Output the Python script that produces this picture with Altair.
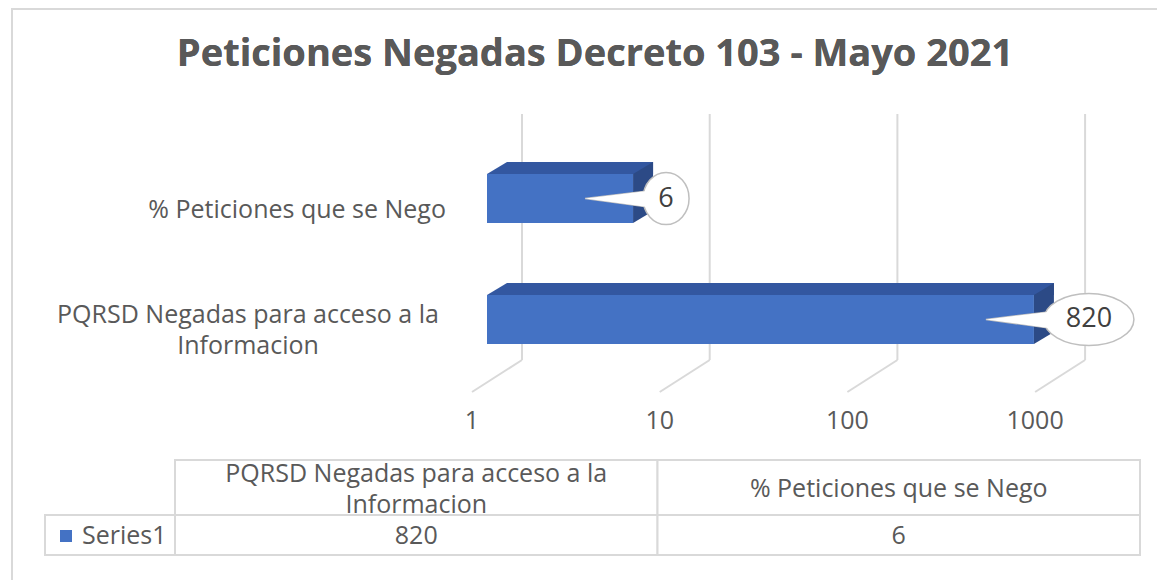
import altair as alt
import pandas as pd

# ---------------- data ----------------
title_text = "Peticiones Negadas Decreto 103 - Mayo 2021"
categories = ["PQRSD Negadas para acceso a la Informacion", "% Peticiones que se Nego"]
category_labels = ["PQRSD Negadas para acceso a la\nInformacion", "% Peticiones que se Nego"]
values = [820, 6]
value_labels = ["820", "6"]
tick_values = [1, 10, 100, 1000]
tick_labels = ["1", "10", "100", "1000"]
series_name = ["Series1"]

# ---------------- styling / layout ----------------
W, H = 1157, 580
ORIGIN = 487.0        # pixel of value 1 on the bar front plane
PX_DEC = 187.7        # pixels per decade
FONT = "Open Sans"
TXT = "#595959"
GRID = "#D9D9D9"
FRONT = "#4472C4"
TOP = "#3357A0"
SIDE = "#2C4A86"
DX, DY = 20, 12       # 3D depth of the bars
BAR_H = 49
LH = 31
FS = 25

df = pd.DataFrame({"cat": categories, "label": category_labels,
                   "val": values, "vlab": value_labels})
ticks = pd.DataFrame({"t": tick_values, "tl": tick_labels})

xs = alt.Scale(type="log", domain=[10 ** (-ORIGIN / PX_DEC), 10 ** ((W - ORIGIN) / PX_DEC)],
               range=[0, W], nice=False, zero=False)
ys = alt.Scale(type="band", domain=categories[::-1], range=[174, 344],
               paddingInner=0.595, paddingOuter=0)
tx = alt.Scale(type="band", domain=categories, range=[175, 1140], paddingInner=0, paddingOuter=0)

X = lambda f: alt.X(f, type="quantitative", scale=xs, axis=None)
Y = alt.Y("cat:N", scale=ys, axis=None)

layers = []

# outer frame
layers.append(alt.Chart(df).mark_rect(fill="white", stroke=GRID, strokeWidth=2).encode(
    x=alt.value(12), x2=alt.value(W + 20), y=alt.value(9), y2=alt.value(H + 20)))

# title
layers.append(alt.Chart(df).mark_text(font=FONT, fontSize=38, fontWeight="bold", color=TXT,
                                      align="center", baseline="middle").encode(
    x=alt.value(595), y=alt.value(55), text=alt.datum(title_text)))

# back-wall gridlines
layers.append(alt.Chart(ticks).mark_rule(color=GRID, strokeWidth=2, xOffset=35).encode(
    x=X("t"), y=alt.value(114), y2=alt.value(360)))
# floor diagonals
layers.append(alt.Chart(ticks).mark_rule(color=GRID, strokeWidth=2, xOffset=35, x2Offset=-15).encode(
    x=X("t"), x2=alt.X2("t"), y=alt.value(360), y2=alt.value(392)))
# tick labels
layers.append(alt.Chart(ticks).mark_text(font=FONT, fontSize=FS, color=TXT, xOffset=-15,
                                         align="center", baseline="middle").encode(
    x=X("t"), y=alt.value(421), text="tl:N"))

# bar: front face
layers.append(alt.Chart(df).mark_bar(size=BAR_H, color=FRONT).encode(
    x=X("val"), x2=alt.X2(datum=1), y=Y))
# bar: top face (rectangle part)
layers.append(alt.Chart(df).mark_bar(size=DY, color=TOP, xOffset=DX, x2Offset=DX,
                                     yOffset=-(BAR_H / 2 + DY / 2)).encode(
    x=X("val"), x2=alt.X2(datum=1), y=Y))
# bar: top face left triangle
hb = BAR_H / 2
tri = f"M0,{-hb} L{DX},{-hb - DY} L{DX},{-hb} Z"
layers.append(alt.Chart(df).mark_point(shape=tri, size=4, filled=True, color=TOP, opacity=1,
                                       strokeWidth=0).encode(
    x=alt.XDatum(1, type="quantitative", scale=xs, axis=None), y=Y))
# bar: side face
side = f"M0,{-hb} L{DX},{-hb - DY} L{DX},{hb - DY} L0,{hb} Z"
layers.append(alt.Chart(df).mark_point(shape=side, size=4, filled=True, color=SIDE, opacity=1,
                                       strokeWidth=0).encode(x=X("val"), y=Y))

# callouts
for c, lab in zip(categories, value_labels):
    rx = 12 + 11 * len(lab)
    ry = 26
    cx = rx + 10
    base = alt.Chart(df).transform_filter(alt.datum.cat == c)
    wedge = f"M-48,0 L{cx - rx + 8},-8 L{cx - rx + 8},9 Z"
    ell = f"M{cx - rx},0 A{rx},{ry} 0 1,0 {cx + rx},0 A{rx},{ry} 0 1,0 {cx - rx},0 Z"
    layers.append(base.mark_point(shape=wedge, size=4, filled=False, fill="white", stroke="#BFBFBF",
                                  strokeWidth=1.5, opacity=1).encode(x=X("val"), y=Y))
    layers.append(base.mark_point(shape=ell, size=4, filled=False, fill="white", stroke="#BFBFBF",
                                  strokeWidth=1.5, opacity=1).encode(x=X("val"), y=Y))
    layers.append(base.mark_point(shape=wedge, size=4, filled=True, fill="white", strokeWidth=0,
                                  opacity=1).encode(x=X("val"), y=Y))
    layers.append(base.mark_text(font=FONT, fontSize=27, color="#404040", dx=cx,
                                 align="center", baseline="middle").encode(
        x=X("val"), y=Y, text="vlab:N"))

# category labels (first line position; extra lines flow downward)
cat_pos = {categories[0]: (248, "center", 11 - LH / 2), categories[1]: (446, "right", 11)}
for c in categories:
    px, al, off = cat_pos[c]
    layers.append(alt.Chart(df).transform_filter(alt.datum.cat == c).mark_text(
        font=FONT, fontSize=FS, color=TXT, align=al, baseline="middle", lineBreak="\n",
        lineHeight=LH, yOffset=off).encode(x=alt.value(px), y=Y, text="label:N"))

# data table
TX = alt.X("cat:N", scale=tx, axis=None)
layers.append(alt.Chart(df).mark_rect(fill="white", stroke=GRID, strokeWidth=2).encode(
    x=TX, y=alt.value(460), y2=alt.value(515)))
layers.append(alt.Chart(df).mark_rect(fill="white", stroke=GRID, strokeWidth=2).encode(
    x=TX, y=alt.value(515), y2=alt.value(555)))
for c in categories:
    n_lines = category_labels[categories.index(c)].count("\n") + 1
    layers.append(alt.Chart(df).transform_filter(alt.datum.cat == c).mark_text(
        font=FONT, fontSize=FS, color=TXT, align="center", baseline="middle", lineBreak="\n",
        lineHeight=LH).encode(
        x=TX, y=alt.value(489 - (n_lines - 1) * LH / 2), text="label:N"))
layers.append(alt.Chart(df).mark_text(font=FONT, fontSize=FS, color=TXT, align="center",
                                      baseline="middle").encode(
    x=TX, y=alt.value(536), text="vlab:N"))
ser = pd.DataFrame({"s": series_name})
layers.append(alt.Chart(ser).mark_rect(fill="white", stroke=GRID, strokeWidth=2).encode(
    x=alt.value(45), x2=alt.value(175), y=alt.value(515), y2=alt.value(555)))
layers.append(alt.Chart(ser).mark_point(shape="square", size=144, filled=True, color=FRONT,
                                        opacity=1).encode(x=alt.value(66), y=alt.value(536)))
layers.append(alt.Chart(ser).mark_text(font=FONT, fontSize=FS, color=TXT, align="left",
                                       baseline="middle").encode(
    x=alt.value(82), y=alt.value(536), text="s:N"))

chart = alt.layer(*layers).resolve_scale(x="independent", y="independent").properties(
    width=W, height=H, padding=0, autosize=alt.AutoSizeParams(type="none")
).configure_view(stroke=None)

chart.save("out.html", embed_options={"renderer": "svg", "actions": False})
